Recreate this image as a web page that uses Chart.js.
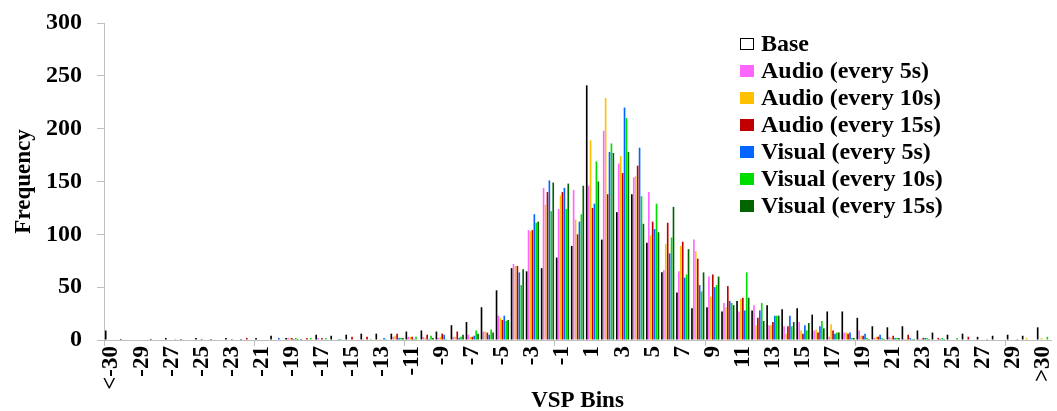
<!DOCTYPE html>
<html><head><meta charset="utf-8">
<script src="https://cdn.jsdelivr.net/npm/chart.js@4.4.1/dist/chart.umd.min.js"></script>
<style>html,body{margin:0;padding:0;background:#fff;}#wrap{width:1057px;height:411px;position:relative;}</style>
</head><body><div id="wrap"><canvas id="c"></canvas></div>
<script>
const categories = ["<-30","-30","-29","-28","-27","-26","-25","-24","-23","-22",
  "-21","-20","-19","-18","-17","-16","-15","-14","-13","-12",
  "-11","-10","-9","-8","-7","-6","-5","-4","-3","-2",
  "-1","0","1","2","3","4","5","6","7","8",
  "9","10","11","12","13","14","15","16","17","18",
  "19","20","21","22","23","24","25","26","27","28",
  "29","30",">30"];
const seriesNames = ["Base","Audio (every 5s)","Audio (every 10s)","Audio (every 15s)","Visual (every 5s)","Visual (every 10s)","Visual (every 15s)"];
const base = [9,1,0,1,2,1,2,1,2,1, 2,4,2,1,5,4,5,6,6,6, 8,9,8,14,17,31,47,68,65,68, 78,89,241,95,121,138,92,64,45,30, 31,27,37,28,33,29,30,24,27,27, 21,13,12,13,9,7,5,6,3,4, 5,4,12];
const audio5 = [0,0,0,0,0,0,0,0,0,0, 0,0,2,0,2,0,0,1,0,3, 3,3,2,3,5,8,23,72,104,144, 124,142,146,198,167,154,140,66,65,95, 60,35,27,33,14,13,17,9,3,7, 9,2,3,1,1,0,0,0,0,0, 0,0,0];
const audio10 = [0,0,0,0,0,0,0,0,0,0, 0,0,2,0,0,0,0,0,1,4, 3,2,3,3,3,8,21,70,103,128, 137,114,189,229,174,155,99,91,89,84, 41,31,39,14,14,6,9,10,15,7, 4,3,2,1,1,0,0,0,0,0, 0,2,2];
const audio15 = [0,0,0,0,0,0,1,0,1,2, 0,0,2,2,2,0,3,3,0,6, 3,5,6,8,3,7,19,70,104,140, 140,100,125,138,158,165,112,111,93,77, 62,51,40,21,17,13,6,7,9,6, 4,3,4,5,2,2,0,3,0,0, 0,0,0];
const visual5 = [0,0,0,0,0,0,0,0,0,0, 0,2,1,0,0,1,0,0,2,2, 1,1,5,2,4,5,23,64,119,151, 144,112,129,178,220,182,105,82,59,52, 50,37,28,28,23,23,14,13,6,7, 6,5,2,2,2,1,0,0,0,0, 0,0,0];
const visual10 = [0,0,0,0,1,0,0,0,0,0, 0,0,2,2,2,1,0,1,1,2, 3,4,1,3,9,10,18,52,111,122, 124,119,169,186,210,136,129,97,62,46, 52,35,64,35,23,13,9,18,7,2, 2,2,2,1,2,2,2,0,1,0, 1,0,3];
const visual15 = [0,0,0,0,0,0,0,0,0,0, 0,0,1,0,0,0,0,0,0,2, 0,2,0,5,6,7,19,67,112,149, 148,146,150,177,178,110,102,126,86,64, 60,33,40,18,23,17,16,11,7,2, 1,1,2,1,1,1,0,0,0,0, 0,0,0];
const yTicks = [0,50,100,150,200,250,300];

const colors = ["#000000","#FF66FF","#FFC000","#C00000","#0066FF","#00DD00","#006400"];
const legendFills = ["#FFFFFF","#FF66FF","#FFC000","#C00000","#0066FF","#00DD00","#006400"];
const allSeries = [base,audio5,audio10,audio15,visual5,visual10,visual15];

const FONT = '"Liberation Serif","Times New Roman",serif';
Chart.defaults.font.family = FONT;
Chart.defaults.font.weight = 'bold';
Chart.defaults.color = '#000';

const legendPlugin = {
  id: 'sideLegend',
  afterDraw(chart) {
    const ctx = chart.ctx;
    ctx.save();
    ctx.font = 'bold 24px ' + FONT;
    ctx.textBaseline = 'middle';
    ctx.textAlign = 'left';
    chart.data.datasets.forEach((ds, i) => {
      const y = 44 + i * 27;
      ctx.fillStyle = legendFills[i];
      ctx.fillRect(740, y - 6, 14, 12);
      if (i === 0) {
        ctx.strokeStyle = '#000';
        ctx.lineWidth = 1;
        ctx.strokeRect(740.5, y - 5.5, 13, 11);
      }
      ctx.fillStyle = '#000';
      ctx.fillText(ds.label, 761, y + 1);
    });
    ctx.restore();
  }
};

new Chart(document.getElementById('c'), {
  type: 'bar',
  data: {
    labels: categories,
    datasets: allSeries.map((d, i) => ({
      label: seriesNames[i],
      data: d,
      backgroundColor: colors[i],
      borderWidth: 0,
      categoryPercentage: 0.9,
      barPercentage: 0.85
    }))
  },
  options: {
    responsive: true,
    maintainAspectRatio: false,
    animation: false,
    layout: { padding: { top: 23, right: 6, left: 0, bottom: 0 } },
    plugins: { legend: { display: false }, tooltip: { enabled: false } },
    scales: {
      x: {
        afterFit(s) { s.height = 71; s.paddingLeft = 0; s.paddingRight = 0; },
        border: { display: true, color: '#BFBFBF', width: 1 },
        grid: {
          offset: true,
          drawOnChartArea: false,
          drawTicks: true,
          tickLength: 6,
          color: (ctx) => (ctx.index % 10 === 0 ? '#BFBFBF' : 'rgba(0,0,0,0)')
        },
        ticks: {
          autoSkip: false,
          maxRotation: 90,
          minRotation: 90,
          padding: 0,
          font: { size: 23, weight: 'bold', family: FONT },
          color: '#000',
          callback: function(v, i) { return i % 2 === 0 ? categories[i] : ''; }
        },
        title: {
          display: true,
          text: 'VSP Bins',
          font: { size: 23, weight: 'bold', family: FONT, lineHeight: 0.9 },
          color: '#000',
          padding: { top: 0, bottom: 0 }
        }
      },
      y: {
        min: 0,
        max: 300,
        afterFit(s) { s.width = 104; s.paddingTop = 0; s.paddingBottom = 0; },
        afterBuildTicks(s) { s.ticks = yTicks.map(v => ({ value: v })); },
        border: { display: true, color: '#BFBFBF', width: 1 },
        grid: { drawOnChartArea: false, drawTicks: true, tickLength: 7, color: '#BFBFBF' },
        ticks: {
          padding: 15,
          font: { size: 24, weight: 'bold', family: FONT },
          color: '#000'
        },
        title: {
          display: true,
          text: 'Frequency',
          font: { size: 23, weight: 'bold', family: FONT },
          color: '#000',
          padding: { top: 10, bottom: 0 }
        }
      }
    }
  },
  plugins: [legendPlugin]
});
</script>
</body></html>
